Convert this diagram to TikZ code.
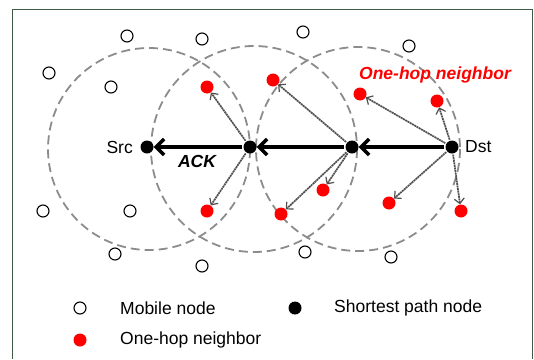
\documentclass[tikz,border=0pt]{standalone}
\usepackage{fontspec}
\setmainfont{Liberation Sans}
\usetikzlibrary{arrows.meta}
\definecolor{framec}{RGB}{60,92,72}
\definecolor{rangec}{RGB}{140,140,140}
\definecolor{linkc}{RGB}{80,80,80}
\definecolor{redc}{RGB}{255,0,0}
\tikzset{
  mobile/.style={circle,draw=black,line width=1.1pt,fill=white,inner sep=0pt,minimum size=12pt},
  hop/.style={circle,fill=redc,inner sep=0pt,minimum size=13pt},
  pathnode/.style={circle,fill=black,inner sep=0pt,minimum size=13pt},
  radiorange/.style={draw=rangec,line width=1.8pt,dash pattern=on 9pt off 5pt},
  ackarrow/.style={line width=3.6pt,-{Straight Barb[length=8pt,width=16pt,line width=3.4pt]},shorten <=1pt},
  bcast/.style={draw=linkc,line width=1.7pt,dash pattern=on 2pt off 0.6pt,-{Straight Barb[length=5pt,width=10pt,line width=1.2pt]},shorten <=1pt},
  lbl/.style={font=\fontsize{17.5}{20}\selectfont,inner sep=0pt},
  lblbi/.style={font=\fontsize{17.5}{20}\selectfont\bfseries\itshape,inner sep=0pt},
}
\begin{document}
\begin{tikzpicture}[x=1pt,y=-1pt]
\useasboundingbox (0,0) rectangle (534,359);
% frame
\draw[framec,line width=1.5pt] (12.5,359) -- (12.5,9.5) -- (532.5,9.5) -- (532.5,359);
% range circles
\draw[radiorange] (149,149) circle (101);
\draw[radiorange] (254,149) circle (103);
\draw[radiorange] (358,149) circle (102);
% mobile nodes
\node[mobile] (m1) at (127,36) {};
\node[mobile] (m2) at (202,39) {};
\node[mobile] (m3) at (49,73) {};
\node[mobile] (m4) at (111,87) {};
\node[mobile] (m5) at (303,32) {};
\node[mobile] (m6) at (409,46) {};
\node[mobile] (m7) at (43,211) {};
\node[mobile] (m8) at (130,211) {};
\node[mobile] (m9) at (115,254) {};
\node[mobile] (m10) at (202,266) {};
\node[mobile] (m11) at (305,252) {};
\node[mobile] (m12) at (391,257) {};
% one-hop neighbors
\node[hop] (r1) at (207,87) {};
\node[hop] (r2) at (273,80) {};
\node[hop] (r3) at (360,94) {};
\node[hop] (r4) at (437,101) {};
\node[hop] (r5) at (207,211) {};
\node[hop] (r6) at (281,214) {};
\node[hop] (r7) at (323,190) {};
\node[hop] (r8) at (389,203) {};
\node[hop] (r9) at (461,211) {};
% path nodes
\node[pathnode] (src) at (147,147) {};
\node[pathnode] (p2) at (250,147) {};
\node[pathnode] (p3) at (352,147) {};
\node[pathnode] (dst) at (452,147) {};
% broadcasts
\draw[bcast] (p2) -- (r1);
\draw[bcast] (p2) -- (r5);
\draw[bcast] (p3) -- (r2);
\draw[bcast] (p3) -- (r6);
\draw[bcast] (p3) -- (r7);
\draw[bcast] (dst) -- (r3);
\draw[bcast] (dst) -- (r4);
\draw[bcast] (dst) -- (r8);
\draw[bcast] (dst) -- (r9);
% ACK path
\draw[ackarrow] (p2) -- (src);
\draw[ackarrow] (p3) -- (p2);
\draw[ackarrow] (dst) -- (p3);
% labels
\node[lbl,anchor=east] (srcl) at (133,147) {Src};
\node[lbl,anchor=west] (dstl) at (465,147) {Dst};
\node[lblbi] (ack) at (197,161) {ACK};
\node[lblbi,text=redc] (ohn) at (435,75) {One-hop neighbor};
% legend
\node[mobile] (lg1) at (80,308) {};
\node[lbl,anchor=west] (lg1t) at (120,308) {Mobile node};
\node[pathnode] (lg2) at (295,308) {};
\node[lbl,anchor=west] (lg2t) at (334,308) {Shortest path node};
\node[hop] (lg3) at (80,340) {};
\node[lbl,anchor=west] (lg3t) at (120,340) {One-hop neighbor};
\end{tikzpicture}
\end{document}
